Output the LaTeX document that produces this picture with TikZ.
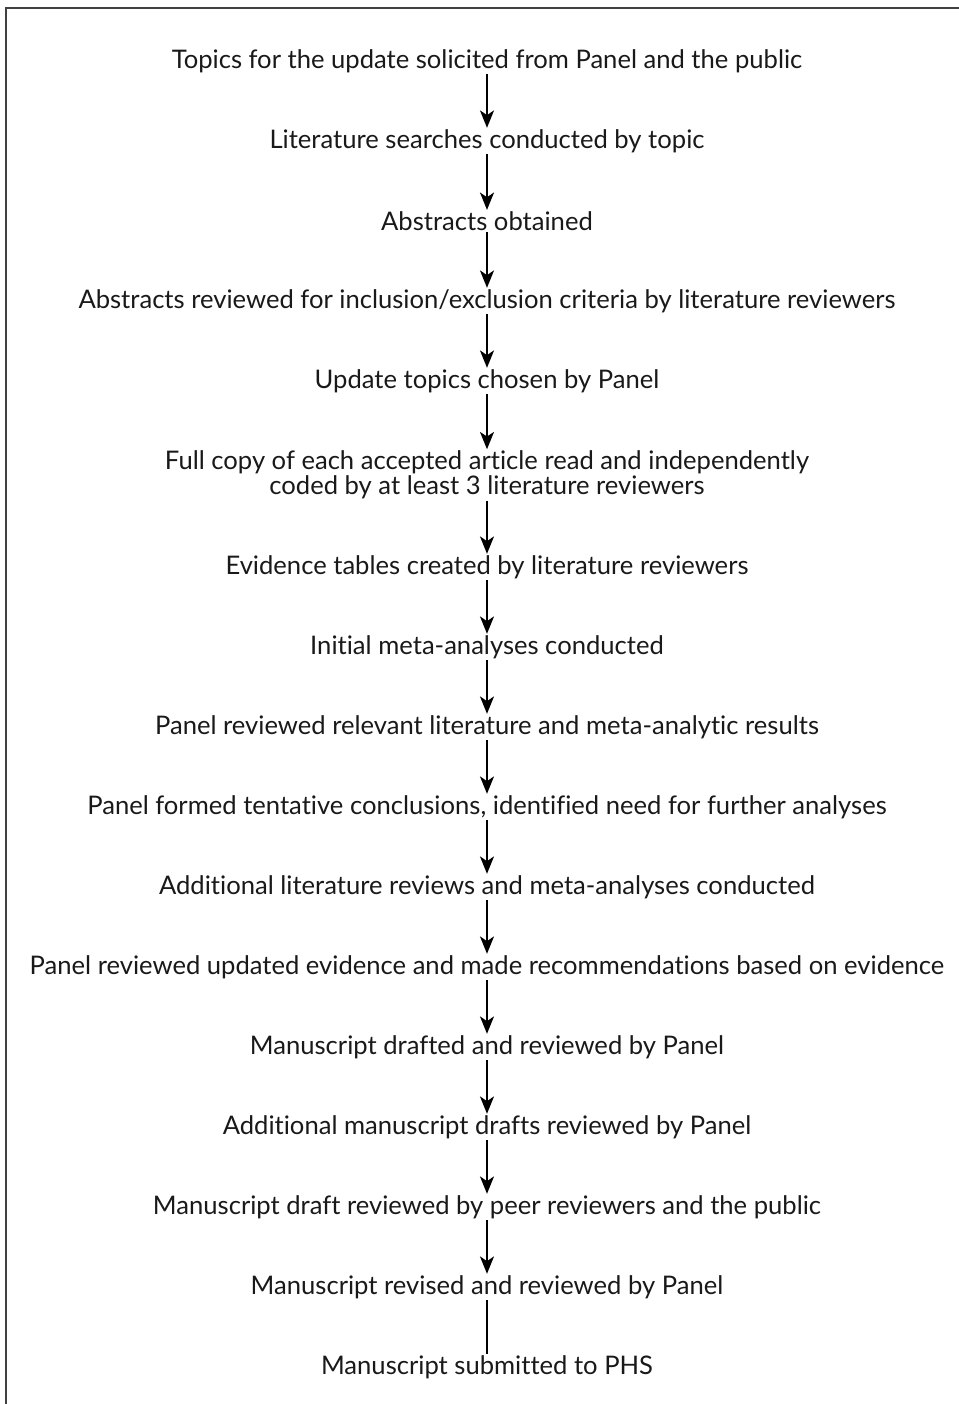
\documentclass[tikz,border=0pt]{standalone}
\usepackage{fontspec}
\setmainfont{Lato}[Ligatures=NoCommon]
\usetikzlibrary{arrows.meta}

\begin{document}
\begin{tikzpicture}[x=0.75pt, y=-0.75pt,
	step text/.style={font=\fontsize{19.2}{18.8}\selectfont, align=center, inner sep=1pt, text=black!90},
	flow/.style={line width=1.4pt, -{Stealth[length=13pt, width=10.5pt, inset=3.5pt]}},
	plain flow/.style={line width=1.4pt}]
	\useasboundingbox (0, 0) rectangle (959, 1404);
	% open frame: top and left edge only
	\draw[black!75, line width=1.5pt] (959, 8) -- (6, 8) -- (6, 1404);

	\node[step text] (topics)   at (487, 61)   {Topics for the update solicited from Panel and the public};
	\node[step text] (search)   at (487, 141)  {Literature searches conducted by topic};
	\node[step text] (abs)      at (487, 221)  {Abstracts obtained};
	\node[step text] (absrev)   at (487, 301)  {Abstracts reviewed for inclusion/exclusion criteria by literature reviewers};
	\node[step text] (chosen)   at (487, 381)  {Update topics chosen by Panel};
	\node[step text] (fullcopy) at (487, 475)  {Full copy of each accepted article read and independently\\coded by at least 3 literature reviewers};
	\node[step text] (evtab)    at (487, 567)  {Evidence tables created by literature reviewers};
	\node[step text] (meta)     at (487, 647)  {Initial meta-analyses conducted};
	\node[step text] (relevant) at (487, 727)  {Panel reviewed relevant literature and meta-analytic results};
	\node[step text] (tentat)   at (487, 807)  {Panel formed tentative conclusions, identified need for further analyses};
	\node[step text] (addlit)   at (487, 887)  {Additional literature reviews and meta-analyses conducted};
	\node[step text] (recomm)   at (487, 967)  {Panel reviewed updated evidence and made recommendations based on evidence};
	\node[step text] (drafted)  at (487, 1047) {Manuscript drafted and reviewed by Panel};
	\node[step text] (adddraft) at (487, 1127) {Additional manuscript drafts reviewed by Panel};
	\node[step text] (peer)     at (487, 1207) {Manuscript draft reviewed by peer reviewers and the public};
	\node[step text] (revised)  at (487, 1287) {Manuscript revised and reviewed by Panel};
	\node[step text] (phs)      at (487, 1367) {Manuscript submitted to PHS};

	\foreach \a/\b in {topics/search, search/abs, abs/absrev, absrev/chosen, chosen/fullcopy,
		fullcopy/evtab, evtab/meta, meta/relevant, relevant/tentat, tentat/addlit, addlit/recomm,
		recomm/drafted, drafted/adddraft, adddraft/peer, peer/revised}
		\draw[flow] (\a) -- (\b);
	\draw[plain flow] (revised) -- (phs);
\end{tikzpicture}
\end{document}
